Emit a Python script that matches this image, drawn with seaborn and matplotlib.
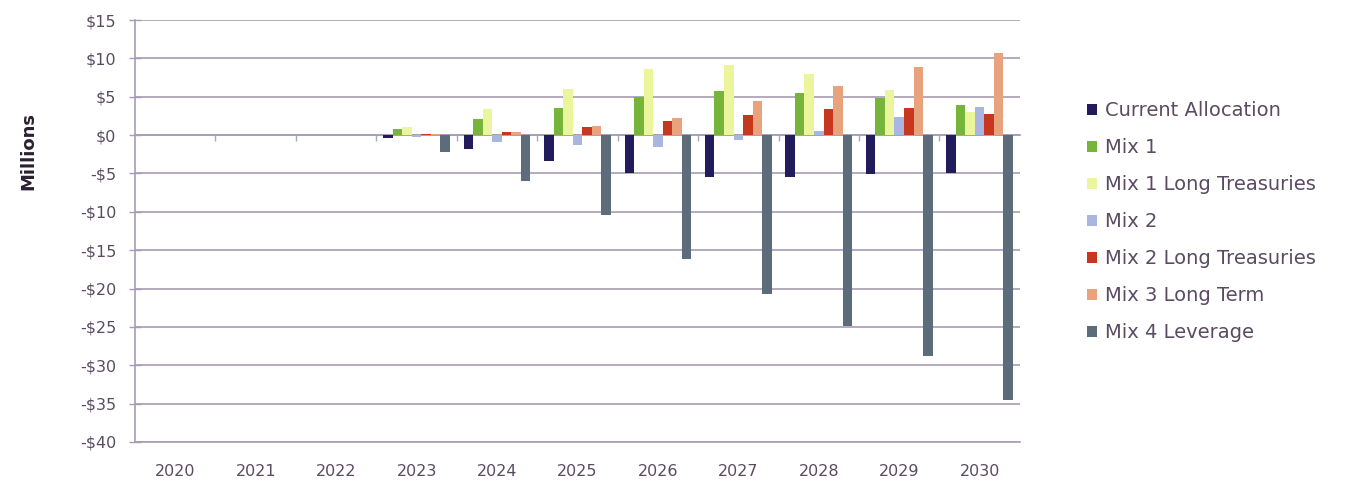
import matplotlib
matplotlib.use("Agg")
import matplotlib.pyplot as plt
from matplotlib.ticker import FuncFormatter, MultipleLocator, FixedLocator, NullFormatter
import seaborn as sns
import pandas as pd

years = ["2020", "2021", "2022", "2023", "2024", "2025", "2026", "2027", "2028", "2029", "2030"]

series_names = [
    "Current Allocation",
    "Mix 1",
    "Mix 1 Long Treasuries",
    "Mix 2",
    "Mix 2 Long Treasuries",
    "Mix 3 Long Term",
    "Mix 4 Leverage",
]

# Values in millions of dollars
current_allocation = [0, 0, 0, -0.4, -1.85, -3.35, -4.9, -5.5, -5.5, -5.1, -5.0]
mix_1 = [0, 0, 0, 0.85, 2.05, 3.5, 4.9, 5.8, 5.55, 4.8, 3.9]
mix_1_long_treasuries = [0, 0, 0, 1.0, 3.4, 6.0, 8.55, 9.1, 8.0, 5.9, 3.05]
mix_2 = [0, 0, 0, -0.2, -0.9, -1.3, -1.6, -0.6, 0.5, 2.3, 3.7]
mix_2_long_treasuries = [0, 0, 0, 0.1, 0.35, 1.1, 1.85, 2.6, 3.35, 3.5, 2.75]
mix_3_long_term = [0, 0, 0, 0.1, 0.4, 1.15, 2.2, 4.4, 6.4, 8.9, 10.7]
mix_4_leverage = [0, 0, 0, -2.2, -6.0, -10.4, -16.2, -20.7, -24.9, -28.8, -34.5]

series_values = [
    current_allocation,
    mix_1,
    mix_1_long_treasuries,
    mix_2,
    mix_2_long_treasuries,
    mix_3_long_term,
    mix_4_leverage,
]

colors = ["#221c5c", "#76b43a", "#eaf59c", "#a8b6e0", "#c7371f", "#e8a27c", "#5d6c7b"]

rows = []
for name, vals in zip(series_names, series_values):
    for yr, v in zip(years, vals):
        rows.append({"Year": yr, "Value": v, "Series": name})
df = pd.DataFrame(rows)

sns.set_theme(style="white")
plt.rcParams["font.family"] = ["DejaVu Sans"]

text_color = "#5b4b62"
grid_color = "#a79db3"

fig = plt.figure(figsize=(13.56, 4.82), dpi=100)
ax = fig.add_axes([0.0996, 0.083, 0.6525, 0.8755])

sns.barplot(
    data=df, x="Year", y="Value", hue="Series",
    order=years, hue_order=series_names, palette=colors,
    width=0.83, saturation=1, errorbar=None, ax=ax,
    linewidth=0, zorder=3,
)

ax.set_xlim(-0.5, len(years) - 0.5)
ax.set_ylim(-40, 15)
ax.yaxis.set_major_locator(MultipleLocator(5))


def money(v, _pos):
    v = int(round(v))
    return f"-${abs(v)}" if v < 0 else f"${v}"


ax.yaxis.set_major_formatter(FuncFormatter(money))

# Gridlines and frame
ax.grid(axis="y", color=grid_color, linewidth=1.2, zorder=0)
ax.grid(axis="x", visible=False)
for side in ["top", "right"]:
    ax.spines[side].set_visible(False)
ax.spines["left"].set_color(grid_color)
ax.spines["left"].set_linewidth(1.2)
ax.spines["bottom"].set_color(grid_color)
ax.spines["bottom"].set_linewidth(1.2)

ax.tick_params(axis="y", direction="inout", length=9, width=1, color=grid_color,
               labelsize=11.5, labelcolor=text_color, pad=9, left=True)
ax.tick_params(axis="x", length=0, labelsize=11.5, labelcolor=text_color, pad=16)
ax.set_xlabel("")
ax.set_ylabel("Millions", fontsize=13, fontweight="bold", color="#2a2030")
ax.yaxis.set_label_coords(-0.11, 0.69)

# Category axis crossing at zero with ticks between the year groups
zero_axis = ax.secondary_xaxis(0, transform=ax.transData)
zero_axis.xaxis.set_major_locator(FixedLocator([i + 0.5 for i in range(len(years) - 1)]))
zero_axis.xaxis.set_major_formatter(NullFormatter())
zero_axis.tick_params(direction="out", length=4, color="#a3abc4", width=1)
for s in zero_axis.spines.values():
    s.set_color("#a3abc4")
    s.set_linewidth(1.3)

# Legend to the right of the plot
handles, labels = ax.get_legend_handles_labels()
ax.legend(
    handles, labels, loc="upper left",
    bbox_to_anchor=(1087 / 1356, 1 - 101 / 482), bbox_transform=fig.transFigure,
    frameon=False, fontsize=14, labelcolor=text_color,
    handlelength=0.5, handleheight=0.5, handletextpad=0.45,
    labelspacing=0.93, borderaxespad=0, borderpad=0,
)

fig.savefig("out.png", dpi=100, facecolor="white")
